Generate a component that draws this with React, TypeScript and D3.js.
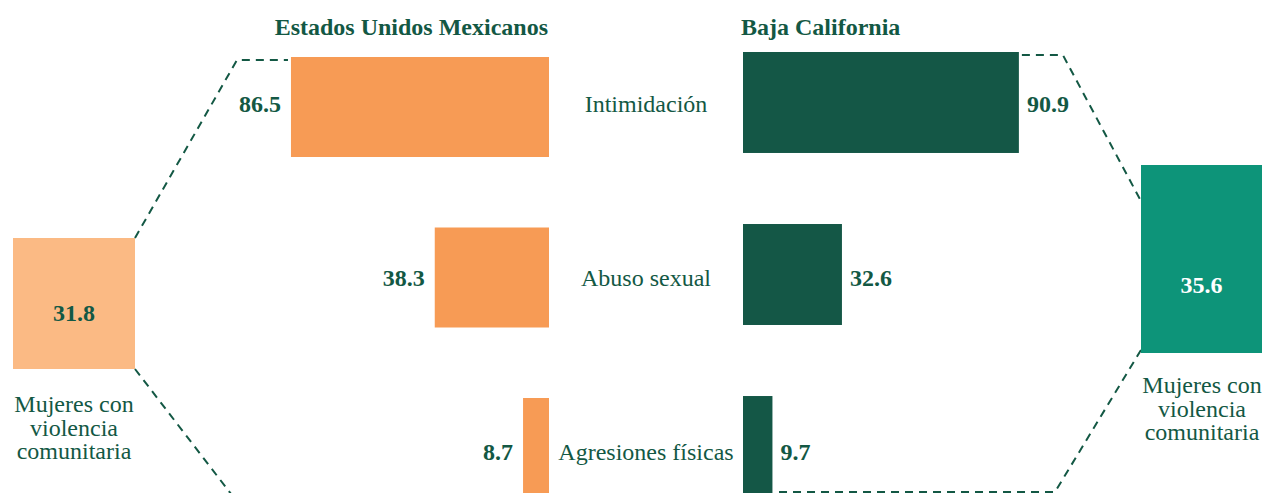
import React from 'react';
import * as d3 from 'd3';

const categories = ['Intimidación', 'Abuso sexual', 'Agresiones físicas'];
const nationalValues = [86.5, 38.3, 8.7];
const stateValues = [90.9, 32.6, 9.7];
const groupTitles = ['Estados Unidos Mexicanos', 'Baja California'];
const totalLabelLines = ['Mujeres con', 'violencia', 'comunitaria'];
const nationalTotal = 31.8;
const stateTotal = 35.6;

const W = 1262;
const H = 493;
const FONT = '"Liberation Serif", "Times New Roman", serif';
const TEXT = '#135844';
const ORANGE = '#F79B55';
const LIGHT_ORANGE = '#FBBA84';
const DARK_GREEN = '#145746';
const TEAL = '#0D9479';

// summary boxes (layout only)
const leftBox = { x0: 13, x1: 135, y0: 238, y1: 369 };
const rightBox = { x0: 1141, x1: 1262, y0: 165, y1: 353 };

const App = () => {
  const xLeft = d3.scaleLinear().domain([0, 100]).range([549, 549 - 298.3]);
  const xRight = d3.scaleLinear().domain([0, 100]).range([743, 743 + 303.5]);

  const yLeft = d3.scaleBand<string>().domain(categories).range([57, 498]).paddingInner(0.4135).paddingOuter(0);
  const yRight = d3.scaleBand<string>().domain(categories).range([52, 497]).paddingInner(0.413).paddingOuter(0);
  const yLabel = d3.scalePoint<string>().domain(categories).range([104, 452]);

  const line = d3.line();

  // connector lines
  const topL = yLeft(categories[0])! + 3;
  const barL0 = xLeft(nationalValues[0]);
  const leftUpper = line([
    [leftBox.x1, leftBox.y0],
    [barL0 - 54, topL],
    [barL0 - 3, topL],
  ]);
  const leftLower = line([
    [leftBox.x1, leftBox.y1],
    [leftBox.x1 + ((H + 10 - leftBox.y1) * 93) / 121, H + 10],
  ]);

  const topR = yRight(categories[0])! + 3;
  const barR0 = xRight(stateValues[0]);
  const cornerR = barR0 + 44;
  const rightUpper = line([
    [barR0 + 3, topR],
    [cornerR, topR],
    [rightBox.x0 + 10, topR + ((rightBox.x0 + 10 - cornerR) * 144) / 77],
  ]);
  const bottomY = H - 1;
  const rightLower = line([
    [rightBox.x0, rightBox.y1 - 3],
    [rightBox.x0 - 86, bottomY],
    [xRight(stateValues[2]) + 3, bottomY],
  ]);

  const dash = { fill: 'none', stroke: TEXT, strokeWidth: 2, strokeDasharray: '8,6' };

  return (
    <svg
      width={W}
      height={H}
      style={{ position: 'absolute', left: 0, top: 0, background: '#fff' }}
      fontFamily={FONT}
    >
      <path d={leftUpper!} {...dash} />
      <path d={leftLower!} {...dash} />
      <path d={rightUpper!} {...dash} />
      <path d={rightLower!} {...dash} />

      {/* titles */}
      <text x={548} y={35} textAnchor="end" fontWeight="bold" fontSize={24} fill={TEXT}>
        {groupTitles[0]}
      </text>
      <text x={741} y={35} textAnchor="start" fontWeight="bold" fontSize={24} fill={TEXT}>
        {groupTitles[1]}
      </text>

      {/* national bars */}
      {categories.map((c, i) => (
        <g key={'n' + c}>
          <rect
            x={xLeft(nationalValues[i])}
            y={yLeft(c)}
            width={xLeft(0) - xLeft(nationalValues[i])}
            height={yLeft.bandwidth()}
            fill={ORANGE}
          />
          <text
            x={xLeft(nationalValues[i]) - 10}
            y={yLabel(c)}
            dy="0.35em"
            textAnchor="end"
            fontWeight="bold"
            fontSize={24}
            fill={TEXT}
          >
            {nationalValues[i].toFixed(1)}
          </text>
        </g>
      ))}

      {/* state bars */}
      {categories.map((c, i) => (
        <g key={'s' + c}>
          <rect
            x={xRight(0)}
            y={yRight(c)}
            width={xRight(stateValues[i]) - xRight(0)}
            height={yRight.bandwidth()}
            fill={DARK_GREEN}
          />
          <text
            x={xRight(stateValues[i]) + 8}
            y={yLabel(c)}
            dy="0.35em"
            textAnchor="start"
            fontWeight="bold"
            fontSize={24}
            fill={TEXT}
          >
            {stateValues[i].toFixed(1)}
          </text>
        </g>
      ))}

      {/* category labels */}
      {categories.map((c) => (
        <text key={'c' + c} x={646} y={yLabel(c)} dy="0.35em" textAnchor="middle" fontSize={24} fill={TEXT}>
          {c}
        </text>
      ))}

      {/* summary boxes */}
      <rect
        x={leftBox.x0}
        y={leftBox.y0}
        width={leftBox.x1 - leftBox.x0}
        height={leftBox.y1 - leftBox.y0}
        fill={LIGHT_ORANGE}
      />
      <text
        x={(leftBox.x0 + leftBox.x1) / 2}
        y={leftBox.y0 + 83}
        textAnchor="middle"
        fontWeight="bold"
        fontSize={24}
        fill={TEXT}
      >
        {nationalTotal.toFixed(1)}
      </text>
      {totalLabelLines.map((t, i) => (
        <text
          key={'ll' + i}
          x={(leftBox.x0 + leftBox.x1) / 2}
          y={leftBox.y1 + 43 + i * 23.5}
          textAnchor="middle"
          fontSize={24}
          fill={TEXT}
        >
          {t}
        </text>
      ))}

      <rect
        x={rightBox.x0}
        y={rightBox.y0}
        width={rightBox.x1 - rightBox.x0}
        height={rightBox.y1 - rightBox.y0}
        fill={TEAL}
      />
      <text
        x={(rightBox.x0 + rightBox.x1) / 2}
        y={rightBox.y0 + 128}
        textAnchor="middle"
        fontWeight="bold"
        fontSize={24}
        fill="#ffffff"
      >
        {stateTotal.toFixed(1)}
      </text>
      {totalLabelLines.map((t, i) => (
        <text
          key={'rl' + i}
          x={1202}
          y={rightBox.y1 + 40 + i * 23.5}
          textAnchor="middle"
          fontSize={24}
          fill={TEXT}
        >
          {t}
        </text>
      ))}
    </svg>
  );
};

export default App;
